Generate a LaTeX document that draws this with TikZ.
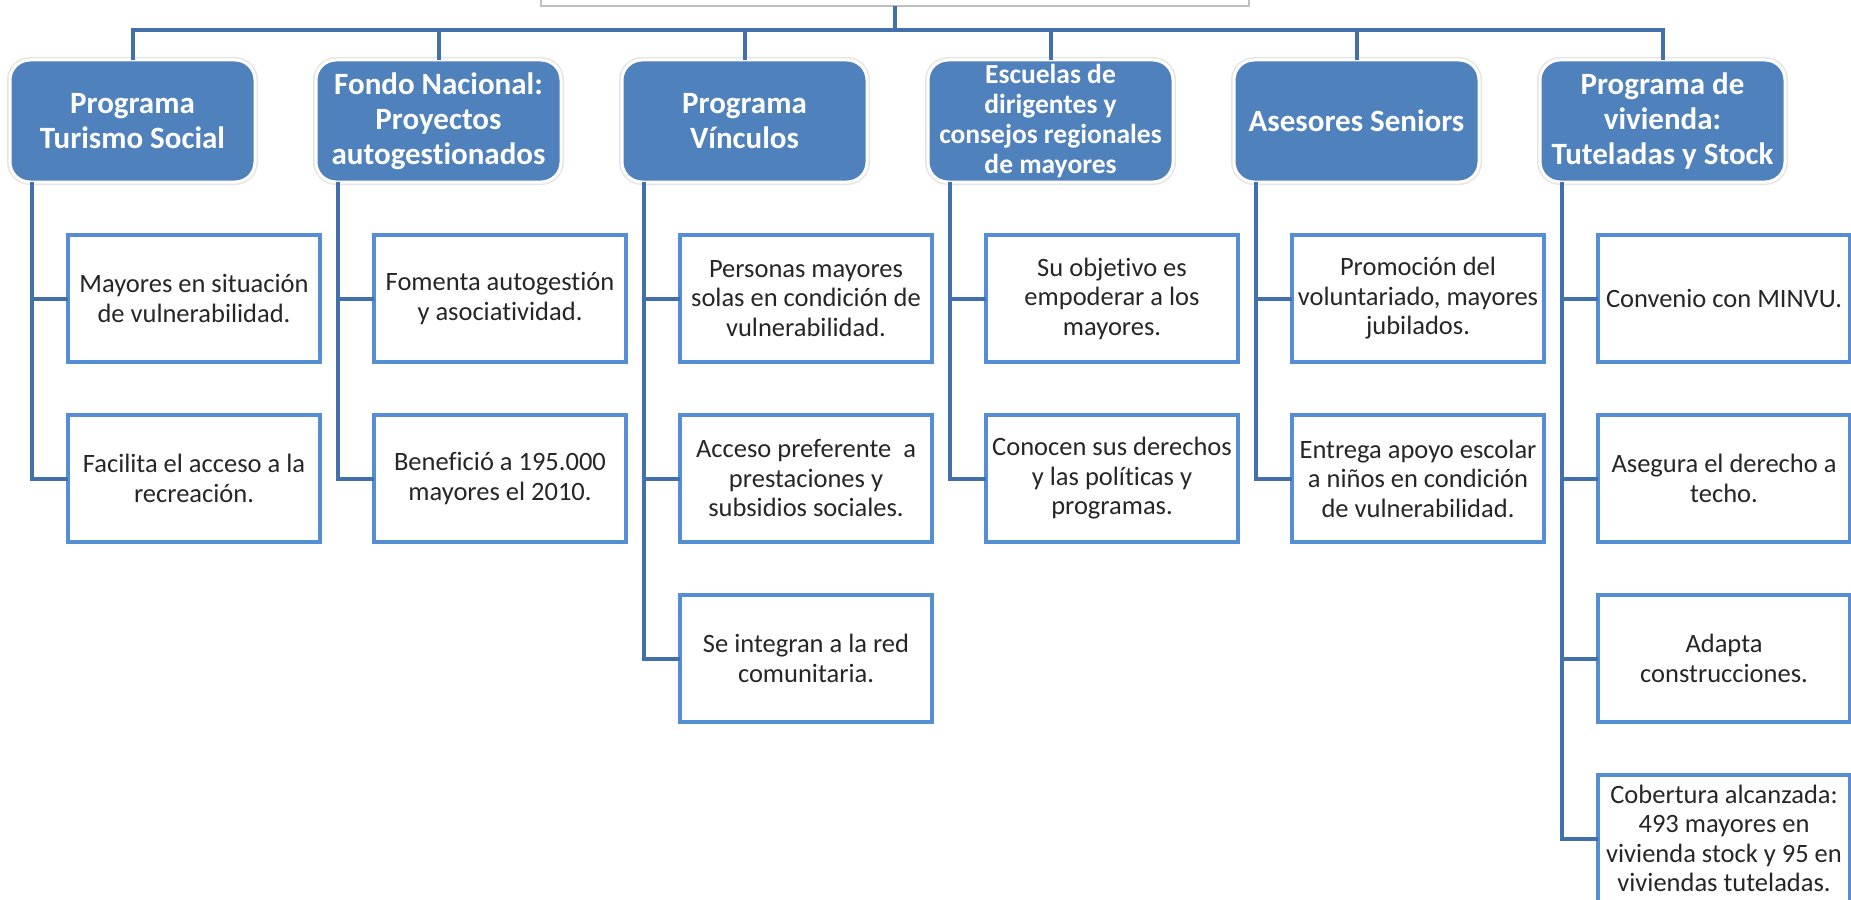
\documentclass[tikz,border=0pt]{standalone}
\usepackage{fontspec}
\setmainfont{Carlito}[Ligatures=NoCommon]
\usetikzlibrary{positioning}
\definecolor{boxblue}{RGB}{79,129,189}
\definecolor{lineblue}{RGB}{65,112,170}
\definecolor{edgeblue}{RGB}{85,142,213}

\begin{document}
\begin{tikzpicture}[x=1pt, y=-1pt,
  parent/.style={draw=white, line width=3pt, preaction={draw=black!10, line width=6pt}, fill=boxblue, rounded corners=20pt, minimum width=245pt, minimum height=122pt, outer sep=0pt, inner sep=1pt, align=center, text=white, font=\fontsize{31}{35}\bfseries\selectfont},
  item/.style={draw=edgeblue, line width=4.5pt, fill=white, minimum width=252pt, minimum height=127pt, outer sep=0pt, inner sep=2pt, align=center, text=black!85, font=\fontsize{26.5}{29.5}\selectfont},
  link/.style={draw=lineblue, line width=4pt}]
\clip (0,0) rectangle (1851,899);

\node[draw=black!25, line width=1.5pt, fill=white, minimum width=708pt, minimum height=60pt, anchor=south, outer sep=0pt] (root) at (895,6) {};
\coordinate (bus) at (895,30);

\node[parent] (tur) at (132.5,121) {Programa\\Turismo Social};
\node[parent, right=61pt of tur] (fondo) {Fondo Nacional:\\Proyectos\\autogestionados};
\node[parent, right=61pt of fondo] (vin) {Programa\\Vínculos};
\node[parent, right=61pt of vin, inner sep=0pt, font=\fontsize{27.5}{30}\bfseries\selectfont] (esc) {Escuelas de\\dirigentes y\\consejos regionales\\de mayores};
\node[parent, right=61pt of esc] (ase) {Asesores Seniors};
\node[parent, right=61pt of ase] (viv) {Programa de\\vivienda:\\Tuteladas y Stock};

\node[item, below right=53pt and 58pt of tur.south west] (tur0) {Mayores en situación\\de vulnerabilidad.};
\node[item, below=53pt of tur0] (tur1) {Facilita el acceso a la\\recreación.};

\node[item, below right=53pt and 58pt of fondo.south west] (fondo0) {Fomenta autogestión\\y asociatividad.};
\node[item, below=53pt of fondo0] (fondo1) {Benefició a 195.000\\mayores el 2010.};

\node[item, below right=53pt and 58pt of vin.south west] (vin0) {Personas mayores\\solas en condición de\\vulnerabilidad.};
\node[item, below=53pt of vin0] (vin1) {Acceso preferente~~a\\prestaciones y\\subsidios sociales.};
\node[item, below=53pt of vin1] (vin2) {Se integran a la red\\comunitaria.};

\node[item, below right=53pt and 58pt of esc.south west] (esc0) {Su objetivo es\\empoderar a los\\mayores.};
\node[item, below=53pt of esc0] (esc1) {Conocen sus derechos\\y las políticas y\\programas.};

\node[item, below right=53pt and 58pt of ase.south west] (ase0) {Promoción del\\voluntariado, mayores\\jubilados.};
\node[item, below=53pt of ase0] (ase1) {Entrega apoyo escolar\\a niños en condición\\de vulnerabilidad.};

\node[item, below right=53pt and 58pt of viv.south west] (viv0) {Convenio con MINVU.};
\node[item, below=53pt of viv0] (viv1) {Asegura el derecho a\\techo.};
\node[item, below=53pt of viv1] (viv2) {Adapta\\construcciones.};
\node[item, below=53pt of viv2] (viv3) {Cobertura alcanzada:\\493 mayores en\\vivienda stock y 95 en\\viviendas tuteladas.};

\draw[link] (root.south) -- (bus);
\draw[link] (bus) -| (tur.north);
\draw[link] (bus) -| (fondo.north);
\draw[link] (bus) -| (vin.north);
\draw[link] (bus) -| (esc.north);
\draw[link] (bus) -| (ase.north);
\draw[link] (bus) -| (viv.north);

\draw[link] ([xshift=22pt]tur.south west) |- (tur0.west);
\draw[link] ([xshift=22pt]tur.south west) |- (tur1.west);
\draw[link] ([xshift=22pt]fondo.south west) |- (fondo0.west);
\draw[link] ([xshift=22pt]fondo.south west) |- (fondo1.west);
\draw[link] ([xshift=22pt]vin.south west) |- (vin0.west);
\draw[link] ([xshift=22pt]vin.south west) |- (vin1.west);
\draw[link] ([xshift=22pt]vin.south west) |- (vin2.west);
\draw[link] ([xshift=22pt]esc.south west) |- (esc0.west);
\draw[link] ([xshift=22pt]esc.south west) |- (esc1.west);
\draw[link] ([xshift=22pt]ase.south west) |- (ase0.west);
\draw[link] ([xshift=22pt]ase.south west) |- (ase1.west);
\draw[link] ([xshift=22pt]viv.south west) |- (viv0.west);
\draw[link] ([xshift=22pt]viv.south west) |- (viv1.west);
\draw[link] ([xshift=22pt]viv.south west) |- (viv2.west);
\draw[link] ([xshift=22pt]viv.south west) |- (viv3.west);
\end{tikzpicture}
\end{document}
